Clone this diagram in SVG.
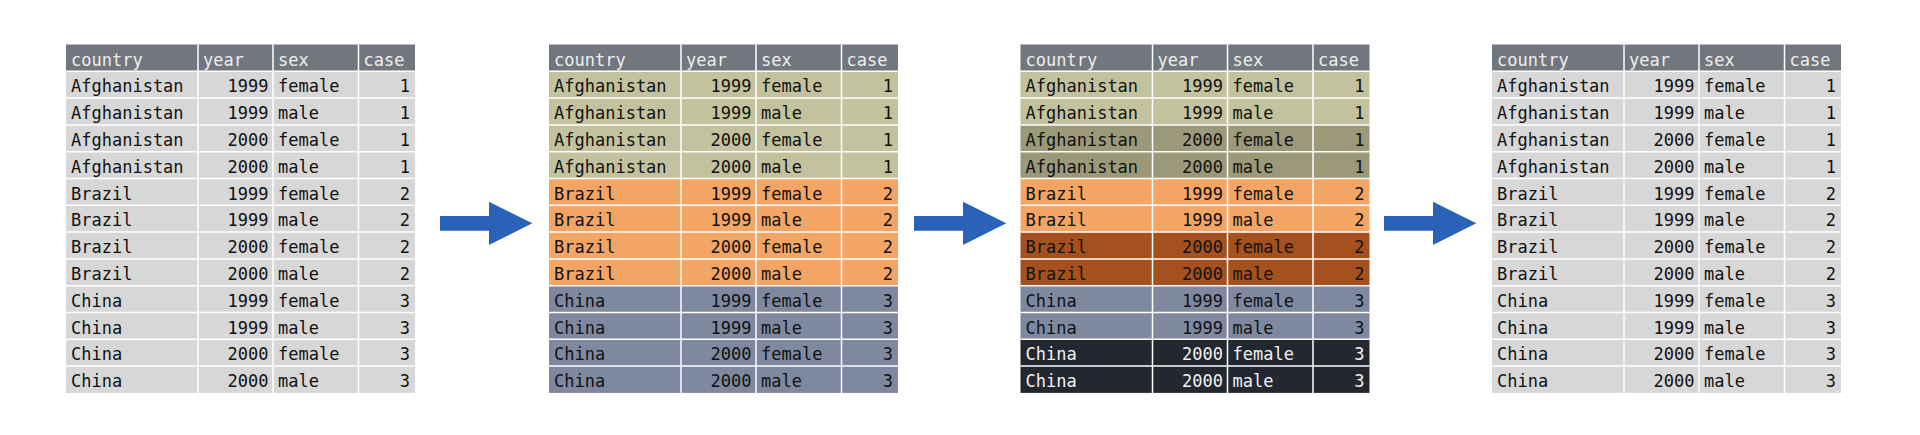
<svg xmlns="http://www.w3.org/2000/svg" xmlns:xlink="http://www.w3.org/1999/xlink" width="1920" height="435" viewBox="0 0 1920 435">
<style>
text{font-family:"DejaVu Sans Mono","Liberation Mono",monospace;font-size:17px;fill:#111}
.e{text-anchor:end}
.hd text{fill:#eeeeee}
.w{fill:#f2f2f2}
.hdr{fill:#72767e}
.g{fill:#d7d7d7}
.ol{fill:#c2c29e}
.od{fill:#9b9979}
.or{fill:#f2a564}
.br{fill:#a5511f}
.sl{fill:#7e899f}
.dk{fill:#23272f}
.grid line{stroke:#ffffff;stroke-width:1.5}
.arrow{fill:#2a62b8}
</style>
<defs>
<g id="gridlines" class="grid">
<line x1="132" y1="44.5" x2="132" y2="392.9"/><line x1="207" y1="44.5" x2="207" y2="392.9"/><line x1="292.5" y1="44.5" x2="292.5" y2="392.9"/>
<line x1="0" y1="71.3" x2="349" y2="71.3"/><line x1="0" y1="98.1" x2="349" y2="98.1"/><line x1="0" y1="124.9" x2="349" y2="124.9"/><line x1="0" y1="151.7" x2="349" y2="151.7"/><line x1="0" y1="178.5" x2="349" y2="178.5"/><line x1="0" y1="205.3" x2="349" y2="205.3"/><line x1="0" y1="232.1" x2="349" y2="232.1"/><line x1="0" y1="258.9" x2="349" y2="258.9"/><line x1="0" y1="285.7" x2="349" y2="285.7"/><line x1="0" y1="312.5" x2="349" y2="312.5"/><line x1="0" y1="339.3" x2="349" y2="339.3"/><line x1="0" y1="366.1" x2="349" y2="366.1"/>
</g>
<g id="header" class="hd">
<rect class="hdr" x="0" y="44.5" width="349" height="26.8"/>
<text x="5" y="65.5">country</text><text x="137" y="65.5">year</text><text x="212" y="65.5">sex</text><text x="297.5" y="65.5">case</text>
</g>
<polygon id="arrowshape" points="0,216 49,216 49,201.7 92.3,223.3 49,245 49,230.7 0,230.7"/>
</defs>

<g id="table1" transform="translate(66,0)">
<use xlink:href="#header"/>
<rect class="g" x="0" y="71.3" width="349" height="321.6"/>
<use xlink:href="#gridlines"/>
<text x="5" y="92.3">Afghanistan</text><text class="e" x="202.5" y="92.3">1999</text><text x="212" y="92.3">female</text><text class="e" x="344" y="92.3">1</text>
<text x="5" y="119.1">Afghanistan</text><text class="e" x="202.5" y="119.1">1999</text><text x="212" y="119.1">male</text><text class="e" x="344" y="119.1">1</text>
<text x="5" y="145.9">Afghanistan</text><text class="e" x="202.5" y="145.9">2000</text><text x="212" y="145.9">female</text><text class="e" x="344" y="145.9">1</text>
<text x="5" y="172.7">Afghanistan</text><text class="e" x="202.5" y="172.7">2000</text><text x="212" y="172.7">male</text><text class="e" x="344" y="172.7">1</text>
<text x="5" y="199.5">Brazil</text><text class="e" x="202.5" y="199.5">1999</text><text x="212" y="199.5">female</text><text class="e" x="344" y="199.5">2</text>
<text x="5" y="226.3">Brazil</text><text class="e" x="202.5" y="226.3">1999</text><text x="212" y="226.3">male</text><text class="e" x="344" y="226.3">2</text>
<text x="5" y="253.1">Brazil</text><text class="e" x="202.5" y="253.1">2000</text><text x="212" y="253.1">female</text><text class="e" x="344" y="253.1">2</text>
<text x="5" y="279.9">Brazil</text><text class="e" x="202.5" y="279.9">2000</text><text x="212" y="279.9">male</text><text class="e" x="344" y="279.9">2</text>
<text x="5" y="306.7">China</text><text class="e" x="202.5" y="306.7">1999</text><text x="212" y="306.7">female</text><text class="e" x="344" y="306.7">3</text>
<text x="5" y="333.5">China</text><text class="e" x="202.5" y="333.5">1999</text><text x="212" y="333.5">male</text><text class="e" x="344" y="333.5">3</text>
<text x="5" y="360.3">China</text><text class="e" x="202.5" y="360.3">2000</text><text x="212" y="360.3">female</text><text class="e" x="344" y="360.3">3</text>
<text x="5" y="387.1">China</text><text class="e" x="202.5" y="387.1">2000</text><text x="212" y="387.1">male</text><text class="e" x="344" y="387.1">3</text>
</g>

<g id="table2" transform="translate(549,0)">
<use xlink:href="#header"/>
<rect class="ol" x="0" y="71.3" width="349" height="107.2"/>
<rect class="or" x="0" y="178.5" width="349" height="107.2"/>
<rect class="sl" x="0" y="285.7" width="349" height="107.2"/>
<use xlink:href="#gridlines"/>
<text x="5" y="92.3">Afghanistan</text><text class="e" x="202.5" y="92.3">1999</text><text x="212" y="92.3">female</text><text class="e" x="344" y="92.3">1</text>
<text x="5" y="119.1">Afghanistan</text><text class="e" x="202.5" y="119.1">1999</text><text x="212" y="119.1">male</text><text class="e" x="344" y="119.1">1</text>
<text x="5" y="145.9">Afghanistan</text><text class="e" x="202.5" y="145.9">2000</text><text x="212" y="145.9">female</text><text class="e" x="344" y="145.9">1</text>
<text x="5" y="172.7">Afghanistan</text><text class="e" x="202.5" y="172.7">2000</text><text x="212" y="172.7">male</text><text class="e" x="344" y="172.7">1</text>
<text x="5" y="199.5">Brazil</text><text class="e" x="202.5" y="199.5">1999</text><text x="212" y="199.5">female</text><text class="e" x="344" y="199.5">2</text>
<text x="5" y="226.3">Brazil</text><text class="e" x="202.5" y="226.3">1999</text><text x="212" y="226.3">male</text><text class="e" x="344" y="226.3">2</text>
<text x="5" y="253.1">Brazil</text><text class="e" x="202.5" y="253.1">2000</text><text x="212" y="253.1">female</text><text class="e" x="344" y="253.1">2</text>
<text x="5" y="279.9">Brazil</text><text class="e" x="202.5" y="279.9">2000</text><text x="212" y="279.9">male</text><text class="e" x="344" y="279.9">2</text>
<text x="5" y="306.7">China</text><text class="e" x="202.5" y="306.7">1999</text><text x="212" y="306.7">female</text><text class="e" x="344" y="306.7">3</text>
<text x="5" y="333.5">China</text><text class="e" x="202.5" y="333.5">1999</text><text x="212" y="333.5">male</text><text class="e" x="344" y="333.5">3</text>
<text x="5" y="360.3">China</text><text class="e" x="202.5" y="360.3">2000</text><text x="212" y="360.3">female</text><text class="e" x="344" y="360.3">3</text>
<text x="5" y="387.1">China</text><text class="e" x="202.5" y="387.1">2000</text><text x="212" y="387.1">male</text><text class="e" x="344" y="387.1">3</text>
</g>

<g id="table3" transform="translate(1020.5,0)">
<use xlink:href="#header"/>
<rect class="ol" x="0" y="71.3" width="349" height="53.6"/>
<rect class="od" x="0" y="124.9" width="349" height="53.6"/>
<rect class="or" x="0" y="178.5" width="349" height="53.6"/>
<rect class="br" x="0" y="232.1" width="349" height="53.6"/>
<rect class="sl" x="0" y="285.7" width="349" height="53.6"/>
<rect class="dk" x="0" y="339.3" width="349" height="53.6"/>
<use xlink:href="#gridlines"/>
<text x="5" y="92.3">Afghanistan</text><text class="e" x="202.5" y="92.3">1999</text><text x="212" y="92.3">female</text><text class="e" x="344" y="92.3">1</text>
<text x="5" y="119.1">Afghanistan</text><text class="e" x="202.5" y="119.1">1999</text><text x="212" y="119.1">male</text><text class="e" x="344" y="119.1">1</text>
<text x="5" y="145.9">Afghanistan</text><text class="e" x="202.5" y="145.9">2000</text><text x="212" y="145.9">female</text><text class="e" x="344" y="145.9">1</text>
<text x="5" y="172.7">Afghanistan</text><text class="e" x="202.5" y="172.7">2000</text><text x="212" y="172.7">male</text><text class="e" x="344" y="172.7">1</text>
<text x="5" y="199.5">Brazil</text><text class="e" x="202.5" y="199.5">1999</text><text x="212" y="199.5">female</text><text class="e" x="344" y="199.5">2</text>
<text x="5" y="226.3">Brazil</text><text class="e" x="202.5" y="226.3">1999</text><text x="212" y="226.3">male</text><text class="e" x="344" y="226.3">2</text>
<text x="5" y="253.1">Brazil</text><text class="e" x="202.5" y="253.1">2000</text><text x="212" y="253.1">female</text><text class="e" x="344" y="253.1">2</text>
<text x="5" y="279.9">Brazil</text><text class="e" x="202.5" y="279.9">2000</text><text x="212" y="279.9">male</text><text class="e" x="344" y="279.9">2</text>
<text x="5" y="306.7">China</text><text class="e" x="202.5" y="306.7">1999</text><text x="212" y="306.7">female</text><text class="e" x="344" y="306.7">3</text>
<text x="5" y="333.5">China</text><text class="e" x="202.5" y="333.5">1999</text><text x="212" y="333.5">male</text><text class="e" x="344" y="333.5">3</text>
<text class="w" x="5" y="360.3">China</text><text class="e w" x="202.5" y="360.3">2000</text><text class="w" x="212" y="360.3">female</text><text class="e w" x="344" y="360.3">3</text>
<text class="w" x="5" y="387.1">China</text><text class="e w" x="202.5" y="387.1">2000</text><text class="w" x="212" y="387.1">male</text><text class="e w" x="344" y="387.1">3</text>
</g>

<g id="table4" transform="translate(1492,0)">
<use xlink:href="#header"/>
<rect class="g" x="0" y="71.3" width="349" height="321.6"/>
<use xlink:href="#gridlines"/>
<text x="5" y="92.3">Afghanistan</text><text class="e" x="202.5" y="92.3">1999</text><text x="212" y="92.3">female</text><text class="e" x="344" y="92.3">1</text>
<text x="5" y="119.1">Afghanistan</text><text class="e" x="202.5" y="119.1">1999</text><text x="212" y="119.1">male</text><text class="e" x="344" y="119.1">1</text>
<text x="5" y="145.9">Afghanistan</text><text class="e" x="202.5" y="145.9">2000</text><text x="212" y="145.9">female</text><text class="e" x="344" y="145.9">1</text>
<text x="5" y="172.7">Afghanistan</text><text class="e" x="202.5" y="172.7">2000</text><text x="212" y="172.7">male</text><text class="e" x="344" y="172.7">1</text>
<text x="5" y="199.5">Brazil</text><text class="e" x="202.5" y="199.5">1999</text><text x="212" y="199.5">female</text><text class="e" x="344" y="199.5">2</text>
<text x="5" y="226.3">Brazil</text><text class="e" x="202.5" y="226.3">1999</text><text x="212" y="226.3">male</text><text class="e" x="344" y="226.3">2</text>
<text x="5" y="253.1">Brazil</text><text class="e" x="202.5" y="253.1">2000</text><text x="212" y="253.1">female</text><text class="e" x="344" y="253.1">2</text>
<text x="5" y="279.9">Brazil</text><text class="e" x="202.5" y="279.9">2000</text><text x="212" y="279.9">male</text><text class="e" x="344" y="279.9">2</text>
<text x="5" y="306.7">China</text><text class="e" x="202.5" y="306.7">1999</text><text x="212" y="306.7">female</text><text class="e" x="344" y="306.7">3</text>
<text x="5" y="333.5">China</text><text class="e" x="202.5" y="333.5">1999</text><text x="212" y="333.5">male</text><text class="e" x="344" y="333.5">3</text>
<text x="5" y="360.3">China</text><text class="e" x="202.5" y="360.3">2000</text><text x="212" y="360.3">female</text><text class="e" x="344" y="360.3">3</text>
<text x="5" y="387.1">China</text><text class="e" x="202.5" y="387.1">2000</text><text x="212" y="387.1">male</text><text class="e" x="344" y="387.1">3</text>
</g>

<g id="connectors" class="arrow">
<use xlink:href="#arrowshape" x="440" y="0"/>
<use xlink:href="#arrowshape" x="914" y="0"/>
<use xlink:href="#arrowshape" x="1384" y="0"/>
</g>
</svg>
